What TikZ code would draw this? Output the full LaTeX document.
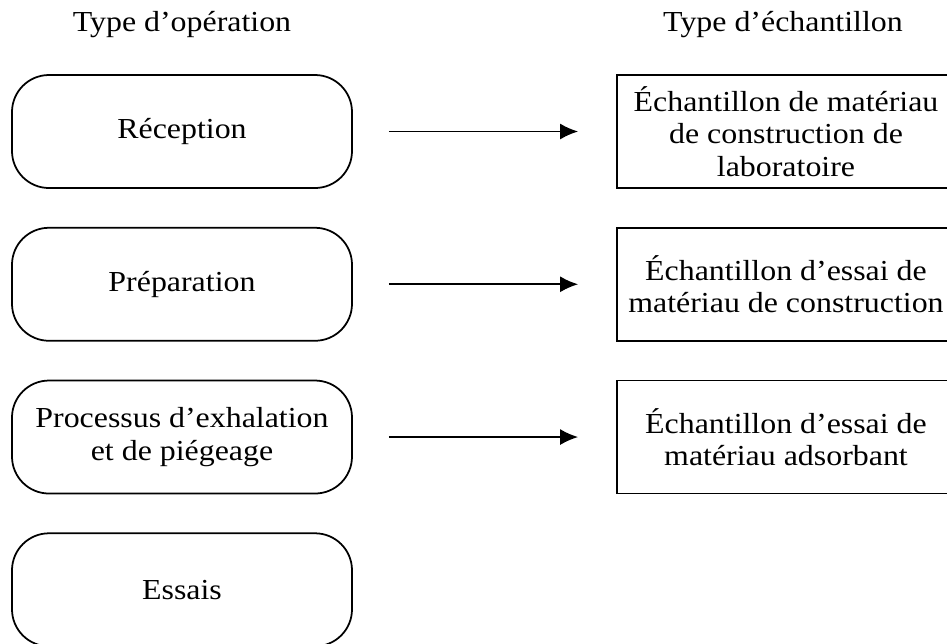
\documentclass[tikz,border=0pt]{standalone}
\usepackage{fontspec}
\setmainfont[FakeStretch=1.1]{Liberation Serif}
\usetikzlibrary{positioning,arrows.meta}

\begin{document}
\begin{tikzpicture}[
    op/.style={draw, line width=1pt, rounded corners=.74cm, minimum width=6.8cm, minimum height=2.26cm, align=center, font=\fontsize{16.5}{18.5}\selectfont},
    ech/.style={draw, line width=1pt, minimum width=6.76cm, minimum height=2.26cm, align=center, font=\fontsize{16.5}{18.5}\selectfont},
    head/.style={anchor=base, font=\fontsize{16.5}{18.5}\selectfont},
    fl/.style={-{Latex[length=.36cm,width=.32cm]}, line width=1pt, shorten <=.72cm, shorten >=.76cm}
  ]
    \useasboundingbox (0,0) rectangle (18.94,-12.86);
    % operations
    \node[op] (rec) at (3.64,-2.63) {Réception};
    \node[op, below=.76cm of rec] (prep) {Préparation};
    \node[op, below=.76cm of prep] (proc) {Processus d’exhalation\\et de piégeage};
    \node[op, below=.76cm of proc] (ess) {Essais};
    % echantillons
    \node[ech] (lab) at (15.72,-2.63) {Échantillon de matériau\\de construction de\\laboratoire};
    \node[ech, below=.76cm of lab] (mat) {Échantillon d’essai de\\matériau de construction};
    \node[ech, below=.76cm of mat] (ads) {Échantillon d’essai de\\matériau adsorbant};
    \node[head] (tyop) at (3.64,-.63) {Type d’opération};
    \node[head] (tyech) at (15.66,-.63) {Type d’échantillon};
    \draw[fl] (rec) -- (lab);
    \draw[fl] (prep) -- (mat);
    \draw[fl] (proc) -- (ads);
\end{tikzpicture}
\end{document}
